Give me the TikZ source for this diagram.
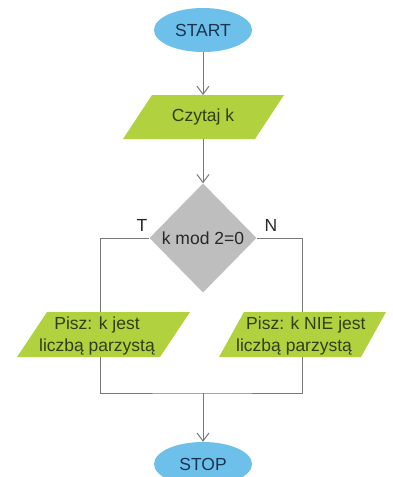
\documentclass[tikz,border=0pt]{standalone}
\usepackage{fontspec}
\setmainfont{Liberation Sans}
\usetikzlibrary{shapes.geometric,arrows.meta}
\definecolor{skyfill}{RGB}{108,192,234}
\definecolor{greenfill}{RGB}{178,209,62}
\definecolor{diamondgray}{RGB}{190,190,190}
\definecolor{linegray}{RGB}{120,120,120}
\definecolor{navytext}{RGB}{28,52,82}
\definecolor{olivetext}{RGB}{50,62,26}
\definecolor{darktext}{RGB}{40,40,40}
\begin{document}
\begin{tikzpicture}[x=1pt,y=-1pt,
  txt/.style={font=\fontsize{17.5}{22}\selectfont},
  flow/.style={draw=linegray, line width=1pt},
  flowarrow/.style={flow, -{Straight Barb[length=8pt,width=12pt]}},
  terminal/.style={txt, ellipse, fill=skyfill, minimum width=98pt, minimum height=44pt, inner sep=0pt, text=navytext},
  iobox/.style={fill=greenfill},
  iotext/.style={txt, text=olivetext, inner sep=0pt},
  decision/.style={txt, diamond, fill=diamondgray, minimum width=107pt, minimum height=109pt, inner sep=0pt, text=darktext},
  branchlabel/.style={txt, text=darktext, inner sep=0pt}]
\fill[white] (0,0) rectangle (393,477);
\clip (0,0) rectangle (393,477);

% terminals
\node[terminal] (start) at (203,30) {START};
\node[terminal] (stop) at (203,464) {STOP};

% input box
\path[iobox] (123,139) -- (152,95) -- (284,95) -- (255,139) -- cycle;
\node[iotext] (czytaj) at (203,117) {Czytaj k};
\coordinate (ctop) at (203,95);
\coordinate (cbot) at (203,139);

% decision
\node[decision] (dec) at (203,238) {k mod 2=0};
\node[branchlabel] (lt) at (142,225) {T};
\node[branchlabel] (ln) at (271,225) {N};

% output boxes
\path[iobox] (17,357) -- (47,312) -- (190,312) -- (160,357) -- cycle;
\node[iotext, align=center] (tleft) at (97,336) {Pisz: k jest\\liczbą parzystą};
\coordinate (ltop) at (100,312);
\coordinate (lbot) at (100,357);

\path[iobox] (219,357) -- (244,312) -- (386,312) -- (361,357) -- cycle;
\node[iotext, align=left, anchor=west] (tright) at (236,336) {\hspace*{10pt}Pisz: k NIE jest\\liczbą parzystą};
\coordinate (rtop) at (302,312);
\coordinate (rbot) at (302,357);

\coordinate (join) at (203,393);

% connectors
\draw[flowarrow] (start) -- (ctop);
\draw[flowarrow] (cbot) -- (dec.north);
\draw[flow] (dec.west) -| (ltop);
\draw[flow] (dec.east) -| (rtop);
\draw[flow] (lbot) |- (join) -| (rbot);
\draw[flowarrow] (join) -- (stop);
\end{tikzpicture}
\end{document}
